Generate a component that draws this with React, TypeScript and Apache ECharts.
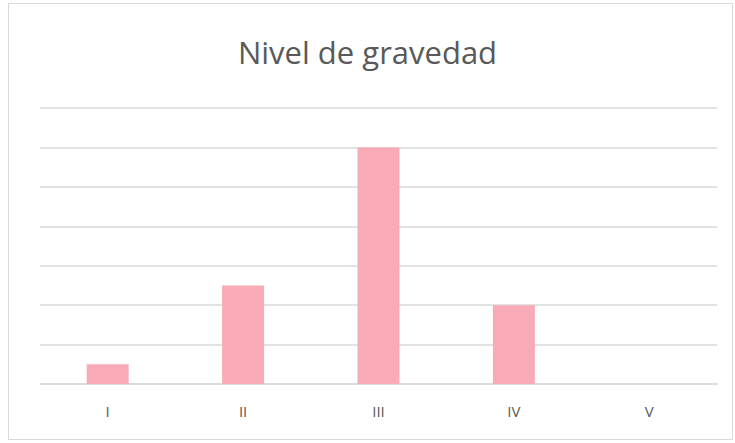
import React, { useEffect, useRef } from "react";
import * as echarts from "echarts";

const categories = ["I", "II", "III", "IV", "V"];
const values = [0.5, 2.5, 6, 2, 0];
const titleText = "Nivel de gravedad";

export default function App() {
  const ref = useRef<HTMLDivElement>(null);
  useEffect(() => {
    document.body.style.margin = "0";
    const chart = echarts.init(ref.current!, null, { renderer: "svg" });
    chart.setOption({
      animation: false,
      backgroundColor: "#ffffff",
      title: {
        text: titleText,
        left: "center",
        top: 31,
        textStyle: { fontFamily: "Open Sans", fontSize: 31, fontWeight: 400, color: "#595959" },
      },
      graphic: [
        {
          type: "rect",
          shape: { x: 8.5, y: 3.5, width: 724, height: 436 },
          style: { fill: "none", stroke: "#d9d9d9", lineWidth: 1 },
          silent: true,
        },
      ],
      grid: { left: 40, right: 18, top: 108, bottom: 59, containLabel: false },
      xAxis: {
        type: "category",
        data: categories,
        axisLine: { show: true, lineStyle: { color: "#d9d9d9", width: 1.5 } },
        axisTick: { show: false },
        axisLabel: { color: "#595959", fontFamily: "Open Sans", fontSize: 15, margin: 19 },
      },
      yAxis: {
        type: "value",
        min: 0,
        max: 7,
        interval: 1,
        axisLine: { show: false },
        axisTick: { show: false },
        axisLabel: { show: false },
        splitLine: { lineStyle: { color: "#d9d9d9", width: 1.5 } },
      },
      series: [
        {
          type: "bar",
          data: values,
          barWidth: "31%",
          itemStyle: { color: "#f8aab7" },
        },
      ],
    });
    return () => chart.dispose();
  }, []);
  return <div ref={ref} style={{ width: 735, height: 443 }} />;
}
